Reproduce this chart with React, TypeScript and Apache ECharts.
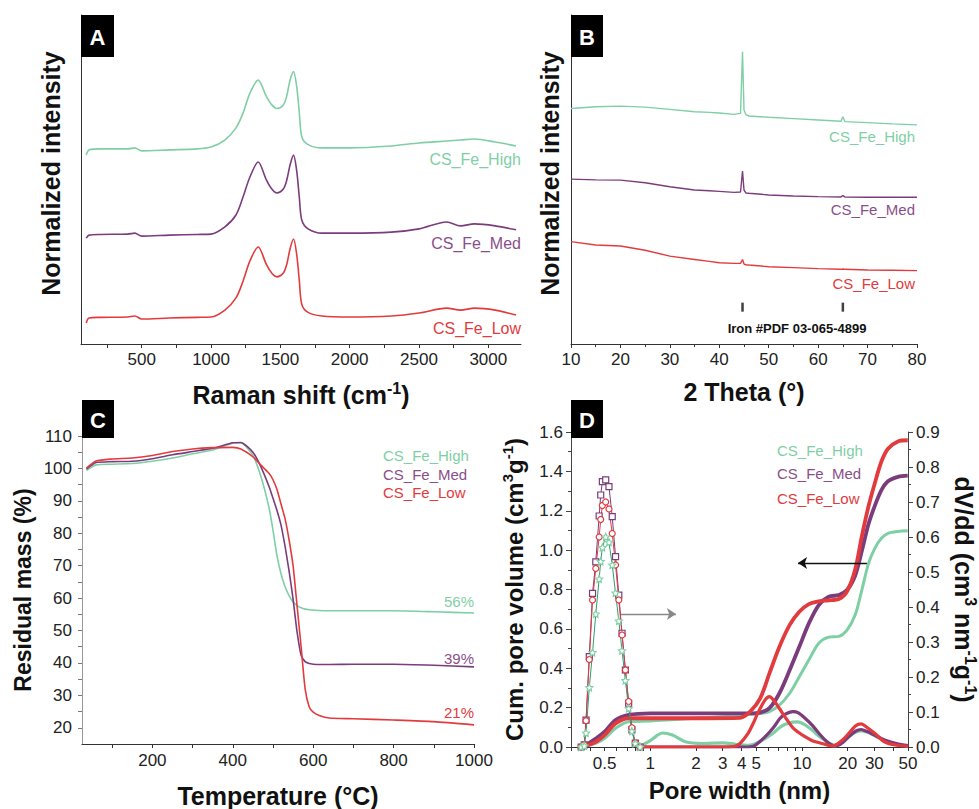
import React, { useEffect, useRef } from 'react';
import * as echarts from 'echarts';

const GREEN = '#7fcfa5';
const PURPLE = '#7b3c7c';
const RED = '#e23b3e';
const GREEN_DARK = '#2f9c70';
const PURPLE_TEXT = '#8a4f89';
const FONT = "'Liberation Sans', Arial, sans-serif";

// ---------- Panel A: Raman ----------
const ramanShift = [100, 120, 200, 400, 450, 500, 700, 900, 1000, 1100, 1180, 1230, 1280, 1340, 1400, 1440, 1475, 1520, 1545, 1570, 1595, 1618, 1637, 1655, 1700, 1800, 2000, 2300, 2500, 2700, 2800, 2900, 3050, 3200];
const ramanHigh = [57.4, 59.0, 59.3, 59.3, 59.6, 58.7, 59.0, 59.3, 59.9, 62.0, 65.7, 70.1, 76.2, 80.2, 75.2, 72.6, 71.6, 72.6, 75.2, 80.2, 82.8, 78.2, 70.2, 63.0, 60.6, 59.6, 59.6, 60.2, 61.1, 61.7, 62.0, 62.3, 61.4, 60.2];
const ramanMed = [32.2, 33.1, 33.3, 33.4, 33.7, 32.8, 33.1, 33.3, 33.4, 35.6, 39.2, 44.6, 50.7, 55.3, 49.8, 47.0, 45.9, 47.0, 49.6, 54.4, 57.4, 52.6, 44.5, 37.6, 35.0, 33.7, 33.7, 34.0, 35.0, 37.1, 35.9, 36.5, 35.9, 34.7];
const ramanLow = [6.4, 7.9, 8.1, 8.2, 8.5, 7.6, 7.9, 8.1, 8.2, 10.3, 14.0, 19.0, 25.2, 29.5, 24.1, 21.4, 20.4, 21.5, 24.0, 28.9, 31.9, 27.2, 19.2, 12.0, 9.6, 8.5, 8.2, 8.5, 9.4, 10.9, 10.3, 10.9, 10.3, 8.8];
const ramanTicks = [250, 500, 750, 1000, 1250, 1500, 1750, 2000, 2250, 2500, 2750, 3000];
const ramanLabels = [500, 1000, 1500, 2000, 2500, 3000];

// ---------- Panel B: XRD ----------
const twoTheta = [10, 15, 20, 25, 30, 35, 38, 40, 43, 44.3, 44.7, 45.0, 45.4, 46, 50, 55, 60, 64.6, 65, 65.4, 70, 75, 80];
const xrdHigh = [71.6, 72.1, 72.3, 72.0, 71.3, 70.6, 70.4, 70.2, 69.8, 70.1, 88.8, 71.1, 69.7, 69.3, 68.9, 68.5, 68.1, 67.7, 69.1, 67.6, 67.3, 66.9, 66.6];
const xrdMed = [50.1, 49.9, 49.8, 49.0, 47.8, 46.8, 46.6, 46.4, 46.1, 46.2, 52.6, 46.8, 45.9, 45.8, 45.3, 45.0, 44.8, 44.7, 45.1, 44.7, 44.6, 44.6, 44.6];
const xrdLow = [31.1, 30.1, 29.8, 28.5, 26.7, 25.7, 25.1, 24.7, 24.5, 24.5, 25.7, 24.3, 24.1, 24.0, 23.5, 23.2, 22.9, 22.7, 22.8, 22.7, 22.5, 22.4, 22.3];
const ironPeaks = [44.7, 65.0];
const ironStickLevel = 11.2;

// ---------- Panel C: TGA ----------
const temperature = [36, 60, 100, 150, 200, 250, 300, 350, 400, 420, 450, 470, 490, 500, 510, 520, 530, 540, 550, 560, 570, 580, 590, 600, 615, 640, 700, 800, 900, 1000];
const tgaHigh = [99.4, 101.1, 101.3, 101.5, 102.2, 103.2, 104.5, 105.7, 107.8, 107.9, 104.0, 97.5, 88.0, 81.0, 73.0, 67.5, 63.5, 60.8, 58.8, 57.7, 57.0, 56.6, 56.4, 56.3, 56.2, 56.1, 56.1, 56.1, 55.8, 55.4];
const tgaMed = [99.8, 101.8, 102.1, 102.2, 103.0, 104.2, 105.2, 106.2, 107.9, 108.0, 105.0, 100.5, 94.5, 90.8, 87.0, 82.5, 76.0, 68.4, 59.7, 49.5, 42.4, 40.4, 39.8, 39.6, 39.5, 39.5, 39.6, 39.6, 39.3, 38.8];
const tgaLow = [100.1, 102.3, 102.9, 103.2, 104.0, 105.2, 106.0, 106.4, 106.5, 106.0, 103.6, 101.0, 98.5, 96.5, 93.5, 89.0, 84.5, 78.0, 70.0, 57.5, 45.0, 32.0, 26.5, 24.8, 23.8, 23.0, 22.8, 22.4, 21.9, 20.9];
const tempTicks = [100, 200, 300, 400, 500, 600, 700, 800, 900, 1000];
const tempLabels = [200, 400, 600, 800, 1000];
const massTicks = [20, 25, 30, 35, 40, 45, 50, 55, 60, 65, 70, 75, 80, 85, 90, 95, 100, 105, 110];
const massLabels = [20, 30, 40, 50, 60, 70, 80, 90, 100, 110];

// ---------- Panel D: pore size ----------
const cumWidth = [0.36, 0.44, 0.5, 0.59, 0.72, 1, 1.45, 2.15, 3.9, 4.55, 5.3, 6.1, 7.1, 8.3, 9.6, 11.1, 12.9, 15, 17.5, 19.8, 22.4, 24.8, 27.4, 30.2, 33.4, 36.9, 42.9, 49.8];
const cumLow = [0, 0.027, 0.061, 0.12, 0.146, 0.146, 0.146, 0.146, 0.148, 0.18, 0.247, 0.374, 0.509, 0.62, 0.687, 0.726, 0.74, 0.745, 0.752, 0.79, 0.9, 1.07, 1.22, 1.34, 1.45, 1.515, 1.552, 1.558];
const cumMed = [0, 0.044, 0.078, 0.137, 0.163, 0.171, 0.171, 0.171, 0.171, 0.171, 0.175, 0.197, 0.273, 0.391, 0.509, 0.628, 0.721, 0.763, 0.772, 0.797, 0.87, 0.995, 1.13, 1.225, 1.305, 1.35, 1.372, 1.378];
const cumHigh = [0, 0.02, 0.044, 0.095, 0.128, 0.132, 0.14, 0.148, 0.16, 0.166, 0.17, 0.18, 0.213, 0.273, 0.357, 0.442, 0.527, 0.558, 0.562, 0.594, 0.67, 0.797, 0.93, 1.009, 1.06, 1.085, 1.095, 1.098];

const microWidth = [0.35, 0.367, 0.377, 0.396, 0.416, 0.437, 0.46, 0.471, 0.483, 0.508, 0.534, 0.561, 0.59, 0.62, 0.651, 0.685, 0.72, 0.756, 0.796, 0.857];
const microMed = [0, 0.006, 0.077, 0.258, 0.439, 0.529, 0.66, 0.72, 0.758, 0.763, 0.744, 0.658, 0.544, 0.434, 0.325, 0.22, 0.125, 0.049, 0.011, 0];
const microLow = [0, 0.006, 0.075, 0.25, 0.42, 0.51, 0.6, 0.65, 0.69, 0.70, 0.68, 0.61, 0.52, 0.42, 0.32, 0.22, 0.13, 0.055, 0.012, 0];
const microHigh = [0, 0.003, 0.04, 0.17, 0.27, 0.38, 0.48, 0.53, 0.57, 0.60, 0.585, 0.52, 0.44, 0.36, 0.275, 0.19, 0.11, 0.045, 0.01, 0];

const mesoWidth = [0.86, 1, 1.1, 1.2, 1.4, 1.7, 2.2, 3, 3.6, 3.9, 4.4, 4.8, 5.1, 5.7, 6.1, 6.6, 7.1, 7.7, 8.7, 9.4, 10.6, 11.7, 13, 14.6, 15.8, 16.6, 18.5, 20.3, 22.5, 24.5, 27, 30, 35, 42, 50];
const mesoLow = [0, 0, 0, 0, 0, 0, 0, 0, 0.002, 0.01, 0.038, 0.07, 0.096, 0.134, 0.144, 0.13, 0.11, 0.087, 0.055, 0.043, 0.028, 0.018, 0.012, 0.006, 0.003, 0.005, 0.02, 0.038, 0.06, 0.066, 0.055, 0.04, 0.015, 0.005, 0.002];
const mesoMed = [0, 0, 0, 0, 0, 0, 0, 0, 0, 0, 0, 0.003, 0.01, 0.029, 0.042, 0.06, 0.08, 0.093, 0.101, 0.098, 0.08, 0.062, 0.038, 0.015, 0.005, 0.002, 0.012, 0.029, 0.045, 0.05, 0.044, 0.034, 0.02, 0.01, 0.004];
const mesoHigh = [0.002, 0.018, 0.032, 0.04, 0.034, 0.015, 0.01, 0.012, 0.008, 0.006, 0.005, 0.008, 0.013, 0.024, 0.032, 0.043, 0.055, 0.064, 0.071, 0.072, 0.062, 0.048, 0.03, 0.015, 0.007, 0.005, 0.015, 0.029, 0.042, 0.046, 0.042, 0.033, 0.019, 0.008, 0.003];

const poreLabels = [0.5, 1, 2, 3, 4, 5, 10, 20, 30, 50];
const poreTicks = [0.3, 0.4, 0.5, 0.6, 0.7, 0.8, 0.9, 1, 2, 3, 4, 5, 6, 7, 8, 9, 10, 20, 30, 40, 50];
const poreMin = 0.3;
const poreMax = 50;

// arrows in panel D (pore width, cumulative-axis level)
const arrowRight = { from: 0.64, to: 1.475, level: 0.675 };
const arrowLeft = { from: 26.8, to: 9.42, level: 0.934 };

const sampleNames = ['CS_Fe_High', 'CS_Fe_Med', 'CS_Fe_Low'];

const zip = (xs: number[], ys: number[]) => xs.map((x, i) => [x, ys[i]]);
const zipLog = (xs: number[], ys: number[]) => xs.map((x, i) => [Math.log10(x), ys[i]]);

const STAR = 'path://M0,-10L2.9,-4L9.5,-3.1L4.8,1.5L5.9,8.1L0,5L-5.9,8.1L-4.8,1.5L-9.5,-3.1L-2.9,-4Z';

const tickLabel = { fontSize: 17, color: '#222', fontFamily: FONT };
const nameStyle = (size: number) => ({ fontSize: size, fontWeight: 'bold', color: '#111', fontFamily: FONT });
const supRich = (size: number) => ({
  t: { fontSize: size, fontWeight: 'bold', color: '#111', fontFamily: FONT, lineHeight: size + 4 },
  s: { fontSize: Math.round(size * 0.62), fontWeight: 'bold', color: '#111', fontFamily: FONT, lineHeight: 14, verticalAlign: 'top' },
});

function buildOption(): any {
  const lineSeries = (name: string, xi: number, yi: number, data: number[][], color: string, width: number, smooth: number | boolean) => ({
    name, type: 'line', xAxisIndex: xi, yAxisIndex: yi, data, showSymbol: false, smooth,
    lineStyle: { color, width }, itemStyle: { color }, silent: true,
  });

  const labelText = (text: string, x: number, y: number, color: string, align: string, size = 15) => ({
    type: 'text', x, y, z: 50,
    style: { text, fill: color, font: `${size}px ${FONT}`, align, verticalAlign: 'middle' },
  });
  const box = (letter: string, x: number, y: number, w: number, h: number) => ({
    type: 'group', z: 100, children: [
      { type: 'rect', shape: { x, y, width: w, height: h }, style: { fill: '#000' }, z: 100 },
      { type: 'text', x: x + w / 2, y: y + h / 2 + 1, z: 101, style: { text: letter, fill: '#fff', font: `bold 22px ${FONT}`, align: 'center', verticalAlign: 'middle' } },
    ],
  });
  const plain = (v: number) => String(v);

  return {
    animation: false,
    backgroundColor: '#fff',
    grid: [
      { left: 81, top: 15, width: 440, height: 329 },
      { left: 571, top: 15, width: 346, height: 329 },
      { left: 82, top: 436, width: 392, height: 310 },
      { left: 571, top: 432, width: 343, height: 315 },
    ],
    xAxis: [
      {
        gridIndex: 0, type: 'value', min: 62, max: 3236,
        axisLine: { onZero: false, lineStyle: { color: '#333' } },
        axisTick: { customValues: ramanTicks, length: 4, lineStyle: { color: '#333' } },
        axisLabel: { customValues: ramanLabels, margin: 7, formatter: plain, ...tickLabel },
        splitLine: { show: false },
        name: '{t|Raman shift (cm}{s|-1}{t|)}', nameLocation: 'middle', nameGap: 36,
        nameTextStyle: { rich: supRich(25) },
      },
      {
        gridIndex: 1, type: 'value', min: 10, max: 80, interval: 10,
        axisLine: { onZero: false, lineStyle: { color: '#333' } },
        axisTick: { length: 4, lineStyle: { color: '#333' } },
        minorTick: { show: true, splitNumber: 2, length: 3, lineStyle: { color: '#333' } },
        axisLabel: { margin: 7, formatter: plain, ...tickLabel },
        splitLine: { show: false },
        name: '2 Theta (°)', nameLocation: 'middle', nameGap: 35, nameTextStyle: nameStyle(25),
      },
      {
        gridIndex: 2, type: 'value', min: 25, max: 1000,
        axisLine: { onZero: false, lineStyle: { color: '#333' } },
        axisTick: { customValues: tempTicks, length: 4, lineStyle: { color: '#333' } },
        axisLabel: { customValues: tempLabels, margin: 8, formatter: plain, ...tickLabel },
        splitLine: { show: false },
        name: 'Temperature (°C)', nameLocation: 'middle', nameGap: 39, nameTextStyle: nameStyle(25),
      },
      {
        gridIndex: 3, type: 'value', min: Math.log10(poreMin), max: Math.log10(poreMax),
        axisLine: { onZero: false, lineStyle: { color: '#333' } },
        axisTick: { customValues: poreTicks.map((v) => Math.log10(v)), length: 4, lineStyle: { color: '#333' } },
        axisLabel: {
          customValues: poreLabels.map((v) => Math.log10(v)), margin: 8, ...tickLabel,
          formatter: (v: number) => { const w = Math.pow(10, v); return w < 1 ? w.toFixed(1) : String(Math.round(w)); },
        },
        splitLine: { show: false },
        name: 'Pore width (nm)', nameLocation: 'middle', nameGap: 31, nameTextStyle: nameStyle(24),
      },
    ],
    yAxis: [
      {
        gridIndex: 0, type: 'value', min: 0, max: 100,
        axisLine: { show: true, onZero: false, lineStyle: { color: '#333' } }, axisTick: { show: false }, axisLabel: { show: false },
        splitLine: { show: false },
        name: 'Normalized intensity', nameLocation: 'middle', nameGap: 18, nameTextStyle: { ...nameStyle(25), padding: [0, 0, 0, 12] },
      },
      {
        gridIndex: 1, type: 'value', min: 0, max: 100,
        axisLine: { show: true, onZero: false, lineStyle: { color: '#333' } }, axisTick: { show: false }, axisLabel: { show: false },
        splitLine: { show: false },
        name: 'Normalized intensity', nameLocation: 'middle', nameGap: 9, nameTextStyle: { ...nameStyle(25), padding: [0, 0, 0, 12] },
      },
      {
        gridIndex: 2, type: 'value', min: 15, max: 110,
        axisLine: { show: true, onZero: false, lineStyle: { color: '#999' } },
        axisTick: { show: true, customValues: massTicks, length: 4, lineStyle: { color: '#777' } },
        axisLabel: { customValues: massLabels, margin: 10, formatter: plain, ...tickLabel },
        splitLine: { show: false },
        name: 'Residual mass (%)', nameLocation: 'middle', nameGap: 48, nameTextStyle: nameStyle(23),
      },
      {
        gridIndex: 3, type: 'value', min: 0, max: 1.6, interval: 0.2,
        axisLine: { show: true, onZero: false, lineStyle: { color: '#444' } },
        axisTick: { show: true, length: 5, lineStyle: { color: '#444' } },
        minorTick: { show: true, splitNumber: 2, length: 3, lineStyle: { color: '#444' } },
        axisLabel: { margin: 8, ...tickLabel, formatter: (v: number) => v.toFixed(1) },
        splitLine: { show: false },
        name: '{t|Cum. pore volume (cm}{s|3}{t|g}{s|-1}{t|)}', nameLocation: 'middle', nameGap: 43,
        nameTextStyle: { rich: supRich(24) },
      },
      {
        gridIndex: 3, type: 'value', position: 'right', min: 0, max: 0.9, interval: 0.1,
        axisLine: { show: true, onZero: false, lineStyle: { color: '#444' } },
        axisTick: { show: true, length: 5, lineStyle: { color: '#444' } },
        minorTick: { show: true, splitNumber: 2, length: 3, lineStyle: { color: '#444' } },
        axisLabel: { margin: 8, ...tickLabel, formatter: (v: number) => v.toFixed(1) },
        splitLine: { show: false },
        name: '{t|dV/dd (cm}{s|3}{t| nm}{s|-1}{t|g}{s|-1}{t|)}', nameLocation: 'middle', nameGap: 41, nameRotate: -90,
        nameTextStyle: { rich: supRich(25) },
      },
    ],
    series: [
      // A
      lineSeries('A_High', 0, 0, zip(ramanShift, ramanHigh), GREEN, 1.6, 0.3),
      lineSeries('A_Med', 0, 0, zip(ramanShift, ramanMed), PURPLE, 1.6, 0.3),
      lineSeries('A_Low', 0, 0, zip(ramanShift, ramanLow), RED, 1.6, 0.3),
      // B
      lineSeries('B_High', 1, 1, zip(twoTheta, xrdHigh), GREEN, 1.4, false),
      lineSeries('B_Med', 1, 1, zip(twoTheta, xrdMed), PURPLE, 1.4, false),
      lineSeries('B_Low', 1, 1, zip(twoTheta, xrdLow), RED, 1.4, false),
      {
        name: 'Iron', type: 'scatter', xAxisIndex: 1, yAxisIndex: 1, silent: true,
        data: ironPeaks.map((p) => [p, ironStickLevel]), symbol: 'rect', symbolSize: [2.5, 9],
        itemStyle: { color: '#111' },
      },
      // C
      lineSeries('C_High', 2, 2, zip(temperature, tgaHigh), GREEN, 1.6, 0.2),
      lineSeries('C_Med', 2, 2, zip(temperature, tgaMed), PURPLE, 1.6, 0.2),
      lineSeries('C_Low', 2, 2, zip(temperature, tgaLow), RED, 1.6, 0.2),
      // D cumulative (left axis)
      lineSeries('D_cum_High', 3, 3, zipLog(cumWidth, cumHigh), GREEN, 3, 0.3),
      lineSeries('D_cum_Med', 3, 3, zipLog(cumWidth, cumMed), PURPLE, 3.8, 0.3),
      {
        ...lineSeries('D_cum_Low', 3, 3, zipLog(cumWidth, cumLow), RED, 3.8, 0.3),
        markLine: {
          silent: true, symbol: ['none', 'arrow'], symbolSize: 9, label: { show: false },
          data: [
            [
              { coord: [Math.log10(arrowRight.from), arrowRight.level], lineStyle: { color: '#888', width: 1.3, type: 'solid' }, itemStyle: { color: '#111' } },
              { coord: [Math.log10(arrowRight.to), arrowRight.level] },
            ],
            [
              { coord: [Math.log10(arrowLeft.from), arrowLeft.level], lineStyle: { color: '#111', width: 1.3, type: 'solid' }, itemStyle: { color: '#111' } },
              { coord: [Math.log10(arrowLeft.to), arrowLeft.level] },
            ],
          ],
        },
      },
      // D dV/dd mesopore bands (right axis)
      lineSeries('D_meso_High', 3, 4, zipLog(mesoWidth, mesoHigh), GREEN, 3.2, 0.3),
      lineSeries('D_meso_Med', 3, 4, zipLog(mesoWidth, mesoMed), PURPLE, 3.2, 0.3),
      lineSeries('D_meso_Low', 3, 4, zipLog(mesoWidth, mesoLow), RED, 3.2, 0.3),
      // D dV/dd micropore peak (right axis, open symbols)
      {
        name: 'D_micro_Med', type: 'line', xAxisIndex: 3, yAxisIndex: 4, silent: true,
        data: zipLog(microWidth, microMed), symbol: 'rect', symbolSize: 6, showSymbol: true,
        lineStyle: { color: PURPLE, width: 1 }, itemStyle: { color: '#fff', borderColor: PURPLE, borderWidth: 1.2 },
      },
      {
        name: 'D_micro_Low', type: 'line', xAxisIndex: 3, yAxisIndex: 4, silent: true,
        data: zipLog(microWidth, microLow), symbol: 'circle', symbolSize: 6, showSymbol: true,
        lineStyle: { color: RED, width: 1 }, itemStyle: { color: '#fff', borderColor: RED, borderWidth: 1.2 },
      },
      {
        name: 'D_micro_High', type: 'line', xAxisIndex: 3, yAxisIndex: 4, silent: true,
        data: zipLog(microWidth, microHigh), symbol: STAR, symbolSize: 7, showSymbol: true,
        lineStyle: { color: GREEN_DARK, width: 1 }, itemStyle: { color: '#fff', borderColor: GREEN, borderWidth: 1.2 },
      },
    ],
    graphic: [
      box('A', 81, 15, 33, 42),
      box('B', 571, 15, 32, 42),
      box('C', 82, 400, 32, 38),
      box('D', 571, 400, 32, 38),
      // Panel A labels
      labelText(sampleNames[0], 521, 159, GREEN, 'right', 16),
      labelText(sampleNames[1], 521, 243, PURPLE_TEXT, 'right', 16),
      labelText(sampleNames[2], 521, 328, RED, 'right', 16),
      // Panel B labels
      labelText(sampleNames[0], 915, 136, GREEN, 'right'),
      labelText(sampleNames[1], 915, 209, PURPLE_TEXT, 'right'),
      labelText(sampleNames[2], 915, 283, RED, 'right'),
      {
        type: 'text', x: 797, y: 328, z: 50,
        style: { text: 'Iron #PDF 03-065-4899', fill: '#111', font: `bold 13px ${FONT}`, align: 'center', verticalAlign: 'middle' },
      },
      // Panel C legend
      labelText(sampleNames[0], 383, 455, GREEN, 'left'),
      labelText(sampleNames[1], 383, 474, PURPLE_TEXT, 'left'),
      labelText(sampleNames[2], 383, 492, RED, 'left'),
      labelText('56%', 474, 601, GREEN, 'right'),
      labelText('39%', 474, 658, PURPLE_TEXT, 'right'),
      labelText('21%', 474, 712, RED, 'right'),
      // Panel D legend
      labelText(sampleNames[0], 777, 450, GREEN, 'left'),
      labelText(sampleNames[1], 777, 473, PURPLE_TEXT, 'left'),
      labelText(sampleNames[2], 777, 498, RED, 'left'),
    ],
  };
}

export default function App() {
  const ref = useRef<HTMLDivElement>(null);
  useEffect(() => {
    if (!ref.current) return;
    const chart = echarts.init(ref.current, null, { renderer: 'svg' });
    chart.setOption(buildOption());
    return () => chart.dispose();
  }, []);
  return (
    <div
      ref={ref}
      style={{ position: 'absolute', left: 0, top: 0, width: 979, height: 809, background: '#fff' }}
    />
  );
}
